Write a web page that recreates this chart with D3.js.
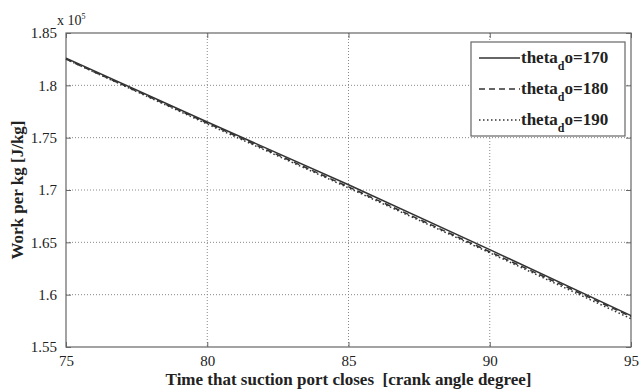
<!DOCTYPE html>
<html>
<head>
<meta charset="utf-8">
<script src="https://cdn.jsdelivr.net/npm/d3@7"></script>
<style>
  body { margin: 0; background: #fff; }
  svg text { font-family: "Liberation Serif", "DejaVu Serif", serif !important; }
</style>
</head>
<body>
<div id="chart"></div>
<script>
// crank angle at suction port closing
var angles = [75, 80, 85, 90, 95];
// work per kg (x 10^5 J/kg) for each theta_do
var work170 = [1.826, 1.765, 1.705, 1.643, 1.580];
var work180 = [1.825, 1.764, 1.703, 1.641, 1.579];
var work190 = [1.825, 1.763, 1.702, 1.640, 1.577];
var seriesNames = ["170", "180", "190"];
var xTicks = [75, 80, 85, 90, 95];
var yTicks = [1.55, 1.6, 1.65, 1.7, 1.75, 1.8, 1.85];

var W = 639, H = 389;
var margin = { top: 33, right: 8, bottom: 42, left: 66 },
    width = W - margin.left - margin.right,
    height = H - margin.top - margin.bottom;

var svg = d3.select("#chart").append("svg")
    .attr("width", W).attr("height", H);
var g = svg.append("g")
    .attr("transform", "translate(" + margin.left + "," + margin.top + ")");

var x = d3.scaleLinear().domain([75, 95]).range([0, width]);
var y = d3.scaleLinear().domain([1.55, 1.85]).range([height, 0]);

// grid (dotted)
g.append("g").selectAll("line")
    .data(xTicks.slice(1, -1)).enter().append("line")
    .attr("x1", d => x(d)).attr("x2", d => x(d))
    .attr("y1", 0).attr("y2", height)
    .attr("stroke", "#888").attr("stroke-dasharray", "1,2");
g.append("g").selectAll("line")
    .data(yTicks.slice(1, -1)).enter().append("line")
    .attr("y1", d => y(d)).attr("y2", d => y(d))
    .attr("x1", 0).attr("x2", width)
    .attr("stroke", "#888").attr("stroke-dasharray", "1,2");

// axes with inside ticks
var axisColor = "#666";
function styleAxis(sel) {
    sel.select(".domain").remove();
    sel.selectAll("line").attr("stroke", axisColor);
    sel.selectAll("text").attr("fill", "#222").style("font-size", "15px");
}
g.append("g").attr("transform", "translate(0," + height + ")")
    .call(d3.axisBottom(x).tickValues(xTicks).tickFormat(d3.format("d"))
        .tickSizeInner(-5).tickPadding(8))
    .call(styleAxis);
g.append("g")
    .call(d3.axisLeft(y).tickValues(yTicks).tickFormat(d => +d.toFixed(2))
        .tickSizeInner(-5).tickPadding(9))
    .call(styleAxis);
g.append("g")
    .call(d3.axisTop(x).tickValues(xTicks).tickFormat("").tickSizeInner(-5))
    .call(styleAxis);
g.append("g").attr("transform", "translate(" + width + ",0)")
    .call(d3.axisRight(y).tickValues(yTicks).tickFormat("").tickSizeInner(-5))
    .call(styleAxis);

// box
g.append("rect").attr("width", width).attr("height", height)
    .attr("fill", "none").attr("stroke", axisColor).attr("stroke-width", 1.2);

// exponent
var expo = svg.append("text").attr("x", margin.left - 9).attr("y", margin.top - 8)
    .style("font-size", "14px").attr("fill", "#222");
expo.append("tspan").text("x 10");
expo.append("tspan").attr("dy", -6).style("font-size", "8px").text("5");

// lines
var allSeries = [work170, work180, work190];
var dashes = [null, "6,4", "1.5,2.5"];
var line = d3.line().x((d, i) => x(angles[i])).y(d => y(d));
allSeries.forEach(function (s, k) {
    g.append("path").datum(s)
        .attr("fill", "none")
        .attr("stroke", "#333")
        .attr("stroke-width", 1.5)
        .attr("stroke-dasharray", dashes[k])
        .attr("d", line);
});

// axis labels
svg.append("text")
    .attr("x", margin.left + width / 2).attr("y", H - 4)
    .attr("text-anchor", "middle")
    .style("font-size", "17px").style("font-weight", "bold").attr("fill", "#222")
    .attr("xml:space", "preserve")
    .text("Time that suction port closes  [crank angle degree]");
svg.append("text")
    .attr("transform", "translate(23," + (margin.top + height / 2) + ") rotate(-90)")
    .attr("text-anchor", "middle")
    .style("font-size", "17px").style("font-weight", "bold").attr("fill", "#222")
    .text("Work per kg [J/kg]");

// legend
var lx = 471, ly = 42;
var legend = svg.append("g");
legend.append("rect").attr("x", lx).attr("y", ly).attr("width", 154).attr("height", 94)
    .attr("fill", "#fff").attr("stroke", axisColor).attr("stroke-width", 1.2);
seriesNames.forEach(function (name, k) {
    var yy = ly + 16 + k * 31;
    legend.append("line")
        .attr("x1", lx + 8).attr("x2", lx + 49)
        .attr("y1", yy).attr("y2", yy)
        .attr("stroke", "#333").attr("stroke-width", 1.5)
        .attr("stroke-dasharray", dashes[k]);
    var t = legend.append("text").attr("x", lx + 50).attr("y", yy + 5)
        .style("font-size", "17px").style("font-weight", "bold").attr("fill", "#222");
    t.append("tspan").text("theta");
    t.append("tspan").attr("dy", 7).style("font-size", "12px").text("d");
    t.append("tspan").attr("dy", -7).text("o=" + name);
});
</script>
</body>
</html>
